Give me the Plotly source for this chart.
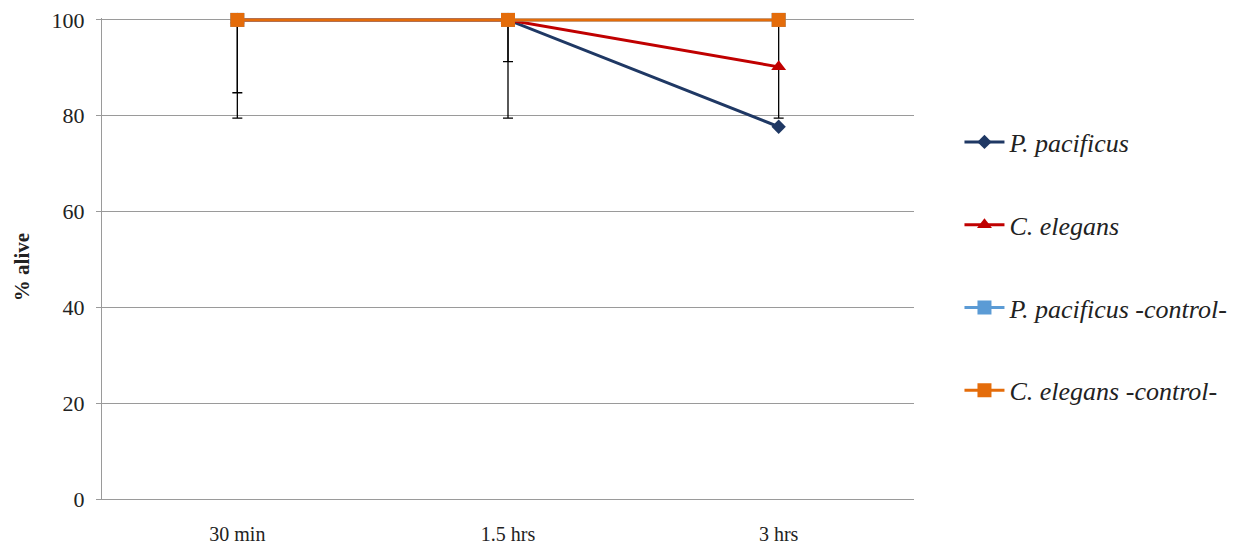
import plotly.graph_objects as go

categories = ["30 min", "1.5 hrs", "3 hrs"]
pp_vals = [100, 100, 77.7]
ce_vals = [100, 100, 90.2]
ppc_vals = [100, 100, 100]
cec_vals = [100, 100, 100]

pp_err_plus = [0, 0, 0]
pp_err_minus = [20.5, 20.5, 0]
ce_err_plus = [0, 0, 9.8]
ce_err_minus = [15.2, 8.7, 10.7]

y_ticks = [0, 20, 40, 60, 80, 100]

serif = "Liberation Serif, Times New Roman, serif"

fig = go.Figure()

fig.add_trace(go.Scatter(
    x=categories, y=pp_vals, name="<i>P. pacificus</i>", mode="lines+markers",
    line=dict(color="#1F3864", width=3),
    marker=dict(symbol="diamond", size=11, color="#1F3864"),
    error_y=dict(type="data", symmetric=False, array=pp_err_plus, arrayminus=pp_err_minus,
                 color="black", thickness=1.3, width=5),
    legendgroup="a", cliponaxis=False,
))
fig.add_trace(go.Scatter(
    x=categories, y=ce_vals, name="<i>C. elegans</i>", mode="lines+markers",
    line=dict(color="#C00000", width=3),
    marker=dict(symbol="triangle-up", size=13, color="#C00000"),
    error_y=dict(type="data", symmetric=False, array=ce_err_plus, arrayminus=ce_err_minus,
                 color="black", thickness=1.3, width=5),
    legendgroup="b", cliponaxis=False,
))
fig.add_trace(go.Scatter(
    x=categories, y=ppc_vals, name="<i>P. pacificus -control-</i>", mode="lines+markers",
    line=dict(color="#5B9BD5", width=3),
    marker=dict(symbol="square", size=14, color="#5B9BD5"),
    legendgroup="c", cliponaxis=False,
))
fig.add_trace(go.Scatter(
    x=categories, y=cec_vals, name="<i>C. elegans -control-</i>", mode="lines+markers",
    line=dict(color="#E46C0A", width=3),
    marker=dict(symbol="square", size=14, color="#E46C0A"),
    legendgroup="d", cliponaxis=False,
))

fig.update_layout(
    width=1245, height=549,
    margin=dict(l=94, r=339, t=10, b=58),
    paper_bgcolor="white", plot_bgcolor="white",
    font=dict(family=serif, color="#222222", size=15),
    showlegend=True,
    legend=dict(
        x=1.056, y=0.791, xanchor="left", yanchor="top",
        font=dict(family=serif, size=26, color="#222222"),
        traceorder="grouped", tracegroupgap=46,
        itemwidth=40,
        bgcolor="rgba(0,0,0,0)",
    ),
    xaxis=dict(
        type="category", range=[-0.5, 2.5], automargin=False,
        showgrid=False, showline=True, linecolor="#9A9A9A", linewidth=1,
        ticks="", tickfont=dict(family=serif, size=20, color="#222222"),
        ticklabelstandoff=17,
    ),
    yaxis=dict(
        range=[0, 100.4], tickvals=y_ticks, automargin=False,
        ticklabeloverflow="allow",
        showgrid=True, gridcolor="#9A9A9A", gridwidth=1,
        showline=True, linecolor="#9A9A9A", linewidth=1,
        ticks="outside", ticklen=5, tickcolor="#9A9A9A",
        tickfont=dict(family=serif, size=22, color="#222222"),
        ticklabelstandoff=7,
        zeroline=False,
    ),
    annotations=[dict(
        text="<b>% alive</b>", xref="paper", yref="paper",
        x=-0.0985, y=0.482, xanchor="center", yanchor="middle",
        textangle=-90, showarrow=False, borderpad=0,
        font=dict(family=serif, size=21, color="#222222"),
    )],
)

fig.write_html("out.html")
